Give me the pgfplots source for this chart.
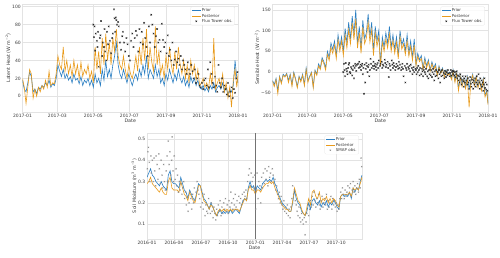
\documentclass[border=0pt]{standalone}
\usepackage{fontspec}
\setmainfont{DejaVu Sans}
\usepackage{pgfplots}
\pgfplotsset{compat=1.18}
\definecolor{priorblue}{HTML}{2A7EC2}
\definecolor{postorange}{HTML}{E99B1C}
\definecolor{gridgray}{HTML}{E3E3E3}
\definecolor{txtgray}{HTML}{3A3A3A}
\pgfplotsset{
  panel/.style={
    scale only axis,
    axis line style={draw=gridgray, line width=0.8pt},
    grid=major,
    major grid style={draw=gridgray, line width=0.8pt},
    tick style={draw=none},
    ticklabel style={font=\fontsize{9}{10}\selectfont, text=txtgray},
    label style={font=\fontsize{9.5}{11}\selectfont, text=txtgray},
    /pgf/number format/assume math mode=true,
    legend style={at={(0.985,0.975)}, anchor=north east, font=\fontsize{8}{9.5}\selectfont,
      draw=gridgray, rounded corners=2pt, fill=white, fill opacity=0.85, text opacity=1,
      row sep=-1pt, inner sep=2pt, text=txtgray},
    legend cell align=left,
    xlabel={Date},
    xlabel style={yshift=4pt},
    ylabel style={yshift=-4pt},
  },
  prior/.style={priorblue, line width=1.2pt},
  post/.style={postorange, line width=1.2pt},
  obs/.style={only marks, mark=x, mark size=2.1pt, black!85, mark options={line width=0.9pt}},
}
\begin{document}
\begin{tikzpicture}
\useasboundingbox (0,0) rectangle (1000pt,514pt);
% ---------------- Panel A: Latent heat ----------------
\begin{axis}[panel, at={(45pt,290pt)}, anchor=south west, width=431pt, height=216pt,
  xmin=0, xmax=365, ymin=-17.5, ymax=103,
  xtick={0,59,120,181,243,304,365},
  xticklabels={2017-01,2017-03,2017-05,2017-07,2017-09,2017-11,2018-01},
  ytick={0,20,40,60,80,100},
  ylabel={Latent Heat (W m\textsuperscript{−2})}]
\addplot[prior] coordinates {
(0,18)(3,8)(6,5)(9,15)(12,27)(15,22)(18,5)(21,8)(24,3)(27,10)(30,8)(33,12)(36,10)(39,15)(42,12)(45,18)(48,10)(51,14)(54,12)(57,20)
(60,35)(63,28)(66,22)(69,30)(72,20)(75,25)(78,18)(81,22)(84,15)(87,25)(90,18)(93,20)(96,14)(99,22)(102,12)(105,18)(108,15)(111,20)(114,12)(117,18)
(120,10)(123,25)(126,15)(129,20)(132,12)(135,30)(138,18)(141,40)(144,22)(147,30)(150,20)(153,35)(156,45)(159,60)(162,35)(165,25)(168,20)(171,30)(174,22)(177,15)
(180,25)(183,18)(186,12)(189,20)(192,25)(195,18)(198,30)(201,22)(204,35)(207,25)(210,45)(213,20)(216,30)(219,25)(222,20)(225,35)(228,22)(231,30)(234,15)(237,20)
(240,12)(243,25)(246,18)(249,30)(252,22)(255,15)(258,25)(261,18)(264,30)(267,20)(270,15)(273,22)(276,12)(279,18)(282,10)(285,22)(288,15)(291,20)(294,12)(297,18)
(300,10)(303,8)(306,12)(309,6)(312,10)(315,5)(318,12)(321,8)(324,15)(327,5)(330,10)(333,12)(336,8)(339,15)(342,5)(345,10)(348,2)(351,8)(354,5)(357,12)(360,40)(363,20)(365,15)};
\addlegendentry{Prior}
\addplot[post] coordinates {
(0,20)(3,10)(6,-8)(9,10)(12,30)(15,25)(18,-2)(21,8)(24,0)(27,10)(30,5)(33,12)(36,8)(39,18)(42,10)(45,28)(48,12)(51,15)(54,14)(57,25)
(60,45)(63,35)(66,30)(69,55)(72,28)(75,40)(78,25)(81,35)(84,22)(87,40)(90,25)(93,35)(96,20)(99,38)(102,22)(105,30)(108,25)(111,35)(114,20)(117,28)
(120,15)(123,55)(126,30)(129,50)(132,25)(135,65)(138,35)(141,70)(144,40)(147,60)(150,35)(153,65)(156,50)(159,75)(162,45)(165,35)(168,30)(171,45)(174,30)(177,20)
(180,35)(183,25)(186,20)(189,30)(192,45)(195,28)(198,55)(201,35)(204,65)(207,40)(210,75)(213,30)(216,55)(219,38)(222,28)(225,78)(228,35)(231,50)(234,25)(237,35)
(240,20)(243,45)(246,30)(249,55)(252,35)(255,25)(258,50)(261,30)(264,55)(267,35)(270,25)(273,40)(276,20)(279,35)(282,15)(285,40)(288,25)(291,35)(294,18)(297,30)
(300,12)(303,15)(306,20)(309,10)(312,15)(315,8)(318,25)(321,12)(324,65)(327,8)(330,15)(333,20)(336,10)(339,25)(342,5)(345,15)(348,-2)(351,10)(354,-12)(357,18)(360,30)(363,10)(365,25)};
\addlegendentry{Posterior}
\addplot[obs] coordinates {
(120,80)(121,66)(122,78)(123,51)(124,70)(126,62)(127,55)(128,72)(129,33)(131,65)(132,68)(133,84)(135,45)(136,60)(138,55)(139,75)(140,50)(142,40)(143,72)(145,58)
(146,78)(148,62)(150,48)(152,65)(153,70)(155,97)(156,87)(157,72)(158,88)(159,85)(160,80)(162,83)(163,78)(165,60)(167,52)(169,67)(170,72)(172,60)(174,50)(176,65)
(178,58)(180,45)(182,40)(184,62)(186,70)(188,55)(190,65)(192,73)(194,68)(196,50)(198,75)(200,60)(202,72)(204,58)(206,82)(208,65)(210,55)(212,45)(214,78)(216,60)
(218,91)(220,80)(222,70)(224,55)(226,67)(228,75)(230,60)(232,63)(234,50)(236,81)(238,63)(240,55)(242,60)(244,48)(246,68)(248,45)(250,52)(252,40)(254,60)(256,35)
(258,41)(260,50)(262,38)(264,42)(266,35)(268,45)(270,30)(272,40)(274,35)(276,30)(278,25)(280,38)(282,30)(284,25)(286,35)(288,28)(290,20)(292,30)(294,15)(296,20)
(298,25)(300,12)(302,10)(304,15)(306,8)(308,18)(310,20)(312,12)(314,30)(316,10)(318,38)(320,25)(322,15)(324,10)(326,22)(328,12)(330,5)(332,35)(334,15)(336,10)
(338,20)(340,5)(342,12)(344,8)(346,2)(348,15)(350,0)(352,5)(354,10)(356,-2)(358,8)(360,4)(362,20)(364,27)};
\addlegendentry{Flux Tower obs.}
\end{axis}
% ---------------- Panel B: Sensible heat ----------------
\begin{axis}[panel, at={(545pt,290pt)}, anchor=south west, width=431pt, height=216pt,
  xmin=0, xmax=365, ymin=-96, ymax=164,
  xtick={0,59,120,181,243,304,365},
  xticklabels={2017-01,2017-03,2017-05,2017-07,2017-09,2017-11,2018-01},
  ytick={-50,0,50,100,150}, yticklabels={−50,0,50,100,150},
  ylabel={Sensible Heat (W m\textsuperscript{−2})}]
\addplot[prior] coordinates {
(0,-20)(3,-30)(6,-15)(9,-45)(12,-10)(15,-25)(18,-5)(21,-10)(24,-3)(27,-20)(30,-5)(33,-30)(36,0)(39,-15)(42,-35)(45,-10)(48,-20)(51,-5)(54,-30)(57,10)
(60,-20)(63,-10)(66,0)(69,-35)(72,5)(75,-5)(78,20)(81,10)(84,35)(87,25)(90,10)(93,50)(96,35)(99,70)(102,55)(105,75)(108,40)(111,90)(114,60)(117,85)
(120,50)(123,105)(126,70)(129,120)(132,80)(135,135)(138,90)(141,150)(144,70)(147,110)(150,55)(153,125)(156,80)(159,95)(162,140)(165,85)(168,120)(171,50)(174,110)(177,75)
(180,100)(183,20)(186,85)(189,60)(192,95)(195,70)(198,110)(201,60)(204,90)(207,55)(210,85)(213,40)(216,100)(219,65)(222,80)(225,50)(228,90)(231,45)(234,75)(237,35)
(240,80)(243,20)(246,45)(249,30)(252,40)(255,10)(258,35)(261,15)(264,30)(267,5)(270,25)(273,10)(276,20)(279,-5)(282,15)(285,0)(288,10)(291,-10)(294,5)(297,-5)
(300,0)(303,-15)(306,5)(309,-20)(312,0)(315,-40)(318,-10)(321,-30)(324,-15)(327,-35)(330,-10)(333,-40)(336,-20)(339,-5)(342,-30)(345,-10)(348,-35)(351,-20)(354,-40)(357,-15)(360,-55)(363,-45)(365,-75)};
\addlegendentry{Prior}
\addplot[post] coordinates {
(0,-22)(3,-35)(6,-18)(9,-52)(12,-12)(15,-28)(18,-8)(21,-12)(24,-5)(27,-25)(30,-8)(33,-35)(36,-3)(39,-18)(42,-38)(45,-12)(48,-24)(51,-8)(54,-33)(57,6)
(60,-25)(63,-12)(66,-2)(69,-38)(72,2)(75,-8)(78,15)(81,6)(84,30)(87,20)(90,5)(93,42)(96,28)(99,60)(102,45)(105,65)(108,32)(111,78)(114,50)(117,75)
(120,40)(123,90)(126,58)(129,102)(132,68)(135,118)(138,78)(141,128)(144,58)(147,95)(150,45)(153,108)(156,68)(159,82)(162,120)(165,72)(168,102)(171,40)(174,95)(177,62)
(180,85)(183,15)(186,72)(189,50)(192,80)(195,58)(198,92)(201,50)(204,76)(207,45)(210,72)(213,32)(216,85)(219,55)(222,68)(225,42)(228,75)(231,38)(234,62)(237,28)
(240,65)(243,15)(246,38)(249,25)(252,33)(255,6)(258,28)(261,10)(264,25)(267,2)(270,20)(273,6)(276,15)(279,-8)(282,12)(285,-3)(288,7)(291,-12)(294,2)(297,-8)
(300,-3)(303,-18)(306,2)(309,-25)(312,-3)(315,-45)(318,-12)(321,-35)(324,-18)(327,-40)(330,-15)(333,-85)(336,-22)(339,-8)(342,-33)(345,-12)(348,-38)(351,-22)(354,-45)(357,-18)(360,-60)(363,-48)(365,-78)};
\addlegendentry{Posterior}
\addplot[obs] coordinates {
(120,0)(121,20)(122,5)(123,-10)(124,22)(125,8)(126,2)(127,-5)(128,10)(129,18)(130,22)(131,0)(132,-3)(133,12)(134,8)(135,-8)(136,5)(137,15)(138,-15)(139,10)
(140,20)(141,15)(142,3)(143,18)(145,20)(146,10)(147,25)(148,12)(149,18)(150,5)(151,15)(152,20)(153,-5)(154,10)(155,-52)(156,18)(157,-25)(158,8)(159,22)(160,15)
(161,0)(162,12)(163,18)(164,-10)(165,5)(166,32)(167,20)(168,10)(170,15)(171,25)(172,8)(173,15)(174,20)(175,12)(176,5)(177,18)(178,22)(179,10)(180,28)(182,15)
(183,20)(185,25)(186,10)(187,18)(188,15)(190,30)(191,22)(192,12)(193,18)(195,25)(196,10)(197,-12)(198,20)(199,15)(200,5)(202,28)(203,18)(204,10)(205,22)(206,15)
(208,5)(209,12)(210,20)(212,15)(213,8)(214,25)(215,10)(216,18)(218,5)(219,12)(220,20)(221,8)(222,-10)(224,15)(225,-25)(226,10)(227,5)(228,20)(230,12)(231,8)
(232,15)(233,2)(234,18)(236,10)(237,-5)(238,5)(239,12)(240,0)(242,8)(243,5)(244,-5)(245,10)(246,0)(247,15)(248,5)(249,-8)(250,10)(252,-5)(253,8)(254,2)
(255,-10)(256,5)(257,12)(258,0)(259,-5)(260,8)(262,-10)(263,2)(264,-15)(265,5)(266,-5)(268,-8)(269,5)(270,-12)(271,0)(272,8)(273,-5)(274,-20)(275,2)(276,-10)
(277,5)(278,-8)(280,0)(281,-15)(282,5)(283,-5)(284,-25)(285,0)(286,-10)(287,5)(288,-8)(290,-2)(291,-15)(292,3)(293,-5)(294,-12)(295,0)(296,-8)(297,5)(298,-3)
(300,-10)(301,-2)(302,5)(303,-8)(304,0)(305,3)(306,-5)(307,2)(308,-8)(309,0)(310,-12)(311,-5)(312,2)(313,-15)(314,-8)(315,-20)(316,-10)(317,-25)(318,-5)(319,-15)
(320,-30)(321,-18)(322,-10)(323,-22)(324,-35)(325,-15)(326,-25)(327,-10)(328,-20)(330,-30)(331,-15)(332,-25)(333,-40)(334,-20)(335,-12)(336,-28)(337,-35)(338,-18)(339,-25)(340,-40)
(341,-20)(342,-30)(343,-15)(344,-35)(345,-25)(346,-10)(347,-30)(348,-20)(349,-5)(350,-25)(351,-40)(352,-15)(353,-30)(354,-20)(355,-35)(356,-25)(357,-45)(358,-30)(359,-15)(360,-38)
(361,-25)(362,-42)(363,-30)(364,-45)};
\addlegendentry{Flux Tower obs.}
\end{axis}
% ---------------- Panel C: Soil moisture ----------------
\begin{axis}[panel, at={(294pt,36pt)}, anchor=south west, width=430pt, height=212pt,
  xmin=0, xmax=726, ymin=0.03, ymax=0.528,
  xtick={0,91,182,274,366,456,547,639},
  xticklabels={2016-01,2016-04,2016-07,2016-10,2017-01,2017-04,2017-07,2017-10},
  ytick={0.1,0.2,0.3,0.4,0.5}, yticklabels={0.1,0.2,0.3,0.4,0.5},
  ylabel={Soil Moisture (m\textsuperscript{3} m\textsuperscript{−3})}]
\addplot[prior] coordinates {
(0,0.32)(6,0.34)(12,0.36)(18,0.33)(24,0.32)(30,0.30)(36,0.29)(42,0.28)(48,0.30)(54,0.28)(60,0.27)(66,0.26)(72,0.33)(78,0.35)(84,0.30)(90,0.29)(96,0.29)(102,0.28)(108,0.27)(114,0.32)
(120,0.29)(126,0.26)(132,0.25)(138,0.22)(144,0.26)(150,0.24)(156,0.22)(162,0.21)(168,0.25)(174,0.29)(180,0.28)(186,0.25)(192,0.22)(198,0.21)(204,0.19)(210,0.17)(216,0.20)(222,0.18)(228,0.16)(234,0.14)
(240,0.15)(246,0.17)(252,0.15)(258,0.16)(264,0.15)(270,0.16)(276,0.15)(282,0.17)(288,0.15)(294,0.16)(300,0.17)(306,0.16)(312,0.15)(318,0.18)(324,0.21)(330,0.22)(336,0.21)(342,0.27)(348,0.30)(354,0.27)
(360,0.28)(366,0.25)(372,0.28)(378,0.27)(384,0.26)(390,0.29)(396,0.30)(402,0.31)(408,0.30)(414,0.31)(420,0.30)(426,0.32)(432,0.29)(438,0.27)(444,0.24)(450,0.22)(456,0.20)(462,0.19)(468,0.18)(474,0.17)
(480,0.16)(486,0.16)(492,0.20)(498,0.26)(504,0.22)(510,0.20)(516,0.19)(522,0.16)(528,0.15)(534,0.14)(540,0.16)(546,0.20)(552,0.17)(558,0.21)(564,0.22)(570,0.20)(576,0.19)(582,0.21)(588,0.18)(594,0.20)
(600,0.19)(606,0.21)(612,0.18)(618,0.20)(624,0.19)(630,0.21)(636,0.20)(642,0.18)(648,0.17)(654,0.23)(660,0.24)(666,0.23)(672,0.24)(678,0.23)(684,0.25)(690,0.22)(696,0.27)(702,0.25)(708,0.27)(714,0.26)
(720,0.30)(726,0.33)};
\addlegendentry{Prior}
\addplot[post] coordinates {
(0,0.29)(6,0.30)(12,0.32)(18,0.29)(24,0.28)(30,0.27)(36,0.26)(42,0.25)(48,0.27)(54,0.25)(60,0.24)(66,0.24)(72,0.30)(78,0.32)(84,0.27)(90,0.26)(96,0.26)(102,0.26)(108,0.25)(114,0.30)
(120,0.27)(126,0.24)(132,0.23)(138,0.21)(144,0.25)(150,0.23)(156,0.21)(162,0.20)(168,0.24)(174,0.28)(180,0.28)(186,0.24)(192,0.21)(198,0.20)(204,0.19)(210,0.17)(216,0.19)(222,0.18)(228,0.16)(234,0.14)
(240,0.16)(246,0.17)(252,0.16)(258,0.17)(264,0.16)(270,0.17)(276,0.16)(282,0.17)(288,0.16)(294,0.17)(300,0.17)(306,0.17)(312,0.16)(318,0.18)(324,0.20)(330,0.22)(336,0.21)(342,0.26)(348,0.28)(354,0.26)
(360,0.26)(366,0.24)(372,0.26)(378,0.26)(384,0.25)(390,0.27)(396,0.28)(402,0.29)(408,0.29)(414,0.30)(420,0.29)(426,0.30)(432,0.27)(438,0.25)(444,0.23)(450,0.21)(456,0.19)(462,0.18)(468,0.17)(474,0.17)
(480,0.16)(486,0.16)(492,0.21)(498,0.27)(504,0.24)(510,0.21)(516,0.20)(522,0.17)(528,0.15)(534,0.14)(540,0.18)(546,0.22)(552,0.19)(558,0.25)(564,0.26)(570,0.23)(576,0.22)(582,0.25)(588,0.20)(594,0.22)
(600,0.21)(606,0.23)(612,0.20)(618,0.22)(624,0.20)(630,0.22)(636,0.21)(642,0.19)(648,0.18)(654,0.23)(660,0.24)(666,0.24)(672,0.24)(678,0.24)(684,0.25)(690,0.23)(696,0.27)(702,0.26)(708,0.27)(714,0.26)
(720,0.29)(726,0.32)};
\addlegendentry{Posterior}
\addplot[only marks, mark=x, mark size=1.8pt, black!45, mark options={line width=0.7pt}] coordinates {
(1,0.36)(3,0.44)(5,0.46)(8,0.39)(10,0.30)(13,0.42)(15,0.34)(18,0.40)(21,0.30)(24,0.41)(26,0.35)(29,0.28)(31,0.42)(34,0.38)(37,0.31)(40,0.43)(42,0.36)(45,0.29)(48,0.40)(51,0.33)
(53,0.27)(56,0.38)(59,0.30)(62,0.26)(65,0.35)(68,0.42)(70,0.30)(72,0.49)(75,0.38)(77,0.44)(80,0.33)(83,0.40)(85,0.51)(88,0.35)(90,0.30)(92,0.42)(95,0.31)(98,0.36)(100,0.28)(103,0.33)
(106,0.25)(109,0.30)(112,0.26)(115,0.29)(118,0.24)(121,0.27)(124,0.30)(127,0.22)(130,0.25)(133,0.19)(136,0.23)(139,0.16)(142,0.20)(145,0.25)(148,0.22)(151,0.17)(154,0.24)(157,0.20)(160,0.27)(163,0.22)
(166,0.25)(169,0.30)(172,0.26)(175,0.24)(178,0.22)(181,0.18)(184,0.26)(187,0.20)(190,0.17)(193,0.24)(196,0.14)(199,0.19)(202,0.16)(205,0.15)(208,0.22)(211,0.18)(214,0.15)(217,0.20)(220,0.16)(223,0.13)
(226,0.18)(229,0.15)(232,0.12)(235,0.17)(238,0.14)(241,0.19)(244,0.16)(247,0.21)(250,0.14)(253,0.18)(256,0.15)(259,0.20)(262,0.17)(265,0.22)(268,0.16)(271,0.19)(274,0.15)(277,0.21)(280,0.18)(283,0.25)
(286,0.20)(289,0.17)(292,0.22)(295,0.19)(298,0.24)(301,0.18)(304,0.21)(307,0.16)(310,0.23)(313,0.20)(316,0.22)(319,0.19)(322,0.24)(325,0.21)(328,0.25)(331,0.23)(334,0.26)(337,0.22)(340,0.30)(343,0.33)
(346,0.36)(349,0.28)(352,0.34)(355,0.30)(358,0.32)(361,0.27)(364,0.33)
(367,0.17)(369,0.26)(372,0.34)(375,0.22)(378,0.30)(381,0.28)(384,0.20)(387,0.32)(390,0.27)(393,0.34)(396,0.29)(399,0.36)(402,0.31)(405,0.35)(408,0.28)(411,0.37)(414,0.32)(417,0.34)(420,0.30)(423,0.36)
(426,0.33)(429,0.29)(432,0.31)(435,0.26)(438,0.28)(441,0.24)(444,0.22)(447,0.25)(450,0.20)(453,0.23)(456,0.19)(459,0.17)(462,0.21)(465,0.16)(468,0.18)(471,0.15)(474,0.19)(477,0.14)(480,0.17)(483,0.13)
(486,0.18)(489,0.22)(492,0.28)(495,0.24)(498,0.26)(501,0.21)(504,0.19)(507,0.16)(510,0.14)(513,0.18)(516,0.13)(519,0.11)(522,0.15)(525,0.12)(528,0.10)(531,0.13)(534,0.05)(537,0.11)(540,0.15)(543,0.19)
(546,0.14)(549,0.17)(552,0.21)(555,0.18)(558,0.23)(561,0.19)(564,0.25)(567,0.21)(570,0.18)(573,0.22)(576,0.20)(579,0.24)(582,0.19)(585,0.17)(588,0.21)(591,0.23)(594,0.18)(597,0.20)(600,0.22)(603,0.19)
(606,0.24)(609,0.17)(612,0.21)(615,0.18)(618,0.20)(621,0.23)(624,0.17)(627,0.22)(630,0.19)(633,0.21)(636,0.18)(639,0.20)(642,0.16)(645,0.19)(648,0.17)(651,0.22)(654,0.25)(657,0.22)(660,0.27)(663,0.24)
(666,0.22)(669,0.26)(672,0.23)(675,0.25)(678,0.28)(681,0.24)(684,0.27)(687,0.29)(690,0.23)(693,0.26)(696,0.30)(699,0.25)(702,0.28)(705,0.24)(708,0.27)(711,0.29)(714,0.25)(717,0.31)(720,0.27)(723,0.41)
(725,0.37)};
\addlegendentry{SMAP obs.}
\addplot[black!55, line width=0.7pt, forget plot] coordinates {(366,0.03) (366,0.528)};
\end{axis}
\end{tikzpicture}
\end{document}
